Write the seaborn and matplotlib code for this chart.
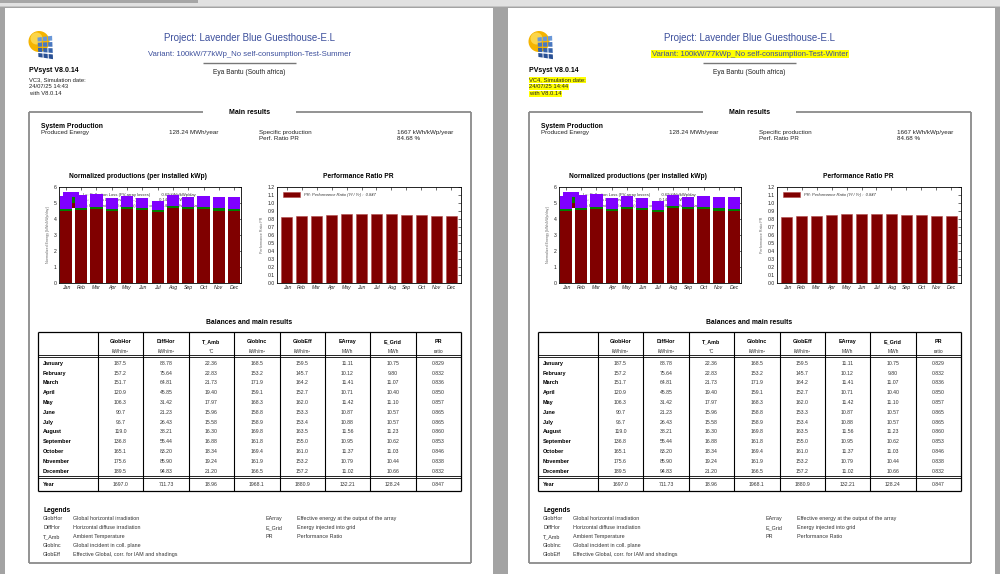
import matplotlib
matplotlib.use("Agg")
import matplotlib.pyplot as plt
import seaborn as sns
import pandas as pd
import numpy as np
from matplotlib.patches import Rectangle, Circle, Polygon, Patch

# ---------------- data ----------------
months_short = ["Jan", "Feb", "Mar", "Apr", "May", "Jun", "Jul", "Aug", "Sep", "Oct", "Nov", "Dec"]
months_long = ["January", "February", "March", "April", "May", "June", "July",
               "August", "September", "October", "November", "December"]

# normalized productions (kWh/kWp/day): reference yield, array yield, final yield
yr_vals = [5.44, 5.47, 5.55, 5.30, 5.43, 5.29, 5.13, 5.48, 5.39, 5.46, 5.40, 5.37]
ya_vals = [4.65, 4.69, 4.78, 4.64, 4.78, 4.71, 4.56, 4.84, 4.74, 4.76, 4.67, 4.62]
yf_vals = [4.50, 4.55, 4.64, 4.50, 4.65, 4.58, 4.43, 4.71, 4.60, 4.62, 4.52, 4.47]

pr_vals = [0.829, 0.832, 0.836, 0.850, 0.857, 0.865, 0.865, 0.860, 0.853, 0.846, 0.838, 0.832]

glob_hor = [187.5, 157.2, 151.7, 120.9, 106.3, 90.7, 96.7, 119.0, 136.8, 165.1, 175.6, 189.5]
diff_hor = [88.78, 75.64, 64.81, 45.85, 31.42, 21.23, 26.43, 38.21, 55.44, 83.20, 85.90, 94.83]
t_amb = [22.36, 22.83, 21.73, 19.40, 17.97, 15.96, 15.58, 16.30, 16.88, 18.34, 19.24, 21.20]
glob_inc = [168.5, 153.2, 171.9, 159.1, 168.3, 158.8, 158.9, 169.8, 161.8, 169.4, 161.9, 166.5]
glob_eff = [159.5, 145.7, 164.2, 152.7, 162.0, 153.3, 153.4, 163.5, 155.0, 161.0, 153.2, 157.2]
e_array = [11.11, 10.12, 11.41, 10.71, 11.42, 10.87, 10.88, 11.56, 10.95, 11.37, 10.79, 11.02]
e_grid = [10.75, 9.80, 11.07, 10.40, 11.10, 10.57, 10.57, 11.23, 10.62, 11.03, 10.44, 10.66]
pr_table = pr_vals
year_row = ["1697.0", "711.73", "18.96", "1968.1", "1880.9", "132.21", "128.24", "0.847"]

col_names = ["GlobHor", "DiffHor", "T_Amb", "GlobInc", "GlobEff", "EArray", "E_Grid", "PR"]
col_units = ["kWh/m²", "kWh/m²", "°C", "kWh/m²", "kWh/m²", "MWh", "MWh", "ratio"]
col_fmt = ["{:.1f}", "{:.2f}", "{:.2f}", "{:.1f}", "{:.1f}", "{:.2f}", "{:.2f}", "{:.3f}"]
table_cols = [glob_hor, diff_hor, t_amb, glob_inc, glob_eff, e_array, e_grid, pr_table]

legend_left = [("GlobHor", "Global horizontal irradiation"),
               ("DiffHor", "Horizontal diffuse irradiation"),
               ("T_Amb", "Ambient Temperature"),
               ("GlobInc", "Global incident in coll. plane"),
               ("GlobEff", "Effective Global, corr. for IAM and shadings")]
legend_right = [("EArray", "Effective energy at the output of the array"),
                ("E_Grid", "Energy injected into grid"),
                ("PR", "Performance Ratio")]

norm_labels = ["Lc: Collection Loss (PV-array losses)          0.69 kWh/kWp/day",
               "Ls: System Loss (inverter, ...)                    0.14 kWh/kWp/day",
               "Yf: Produced useful energy (inverter output)  4.56 kWh/kWp/day"]

pages = [
    dict(ox=0, variant="Variant: 100kW/77kWp_No self-consumption-Test-Summer",
         vc=["VC3, Simulation date:", "24/07/25 14:43", "with V8.0.14"], hl=False),
    dict(ox=500, variant="Variant: 100kW/77kWp_No self-consumption-Test-Winter",
         vc=["VC4, Simulation date:", "24/07/25 14:44", "with V8.0.14"], hl=True),
]

# ---------------- style ----------------
sns.set_theme(style="white")
plt.rcParams['font.family'] = ['Liberation Sans', 'DejaVu Sans']

C_LC = "#8000ff"
C_LS = "#008000"
C_YF = "#800000"
BLUE = "#3c4f9c"

W, H = 1000, 574
fig = plt.figure(figsize=(10, 5.74), dpi=100)
fig.patch.set_facecolor('#a3a3a3')
bg = fig.add_axes([0, 0, 1, 1])
bg.set_xlim(0, W)
bg.set_ylim(H, 0)
bg.axis('off')

# window chrome and pages
bg.add_patch(Rectangle((0, 0), W, 7, fc='#e1e1e1', ec='none'))
bg.add_patch(Rectangle((0, 0), 198, 2.7, fc='#a6a6a6', ec='none'))
bg.add_patch(Rectangle((0, 6), W, 1.2, fc='#c4c4c4', ec='none'))
bg.add_patch(Rectangle((5, 7.5), 488, H, fc='white', ec='none'))
bg.add_patch(Rectangle((508, 7.5), 487, H, fc='white', ec='none'))


def T(x, y, s, size, weight='normal', ha='left', color='#111111', style='normal', **kw):
    bg.text(x, y, s, fontsize=size, fontweight=weight, ha=ha, va='center',
            color=color, fontstyle=style, **kw)


def hline(x0, x1, y, lw=0.7, color='black'):
    bg.plot([x0, x1], [y, y], color=color, lw=lw, solid_capstyle='butt')


def vline(x, y0, y1, lw=0.7, color='black'):
    bg.plot([x, x], [y0, y1], color=color, lw=lw, solid_capstyle='butt')


def logo(ox):
    bg.add_patch(Circle((ox + 39, 41.5), 10.5, fc='#f5b400', ec='none'))
    bg.add_patch(Circle((ox + 36.5, 38.5), 6.0, fc='#fbd54a', ec='none'))
    tl, tr, br, bl = (np.array(p, float) for p in
                      [(ox + 37, 37.0), (ox + 52.5, 35.0), (ox + 53.5, 60), (ox + 38, 57.5)])
    nc, nr = 3, 4

    def pt(u, v):
        top = tl + (tr - tl) * u
        bot = bl + (br - bl) * u
        return top + (bot - top) * v
    g = 0.06
    for i in range(nc):
        for j in range(nr):
            u0, u1 = i / nc + g / 2, (i + 1) / nc - g / 2
            v0, v1 = j / nr + g / 2, (j + 1) / nr - g / 2
            poly = [pt(u0, v0), pt(u1, v0), pt(u1, v1), pt(u0, v1)]
            shade = ['#6a98d8', '#4a78c0', '#3462aa', '#284f94'][j]
            bg.add_patch(Polygon(poly, closed=True, fc=shade, ec='none'))


def style_axes(ax):
    for sp in ax.spines.values():
        sp.set_color('black')
        sp.set_linewidth(0.6)
        sp.set_visible(True)
    ax.tick_params(direction='in', top=True, right=True, length=2, width=0.4,
                   labelsize=3.7, pad=1.5, colors='black', labelcolor='#222222')
    ax.set_xlabel('')
    for lbl in ax.get_xticklabels():
        lbl.set_fontstyle('italic')
    ax.set_facecolor('white')


df = pd.DataFrame({"month": months_short, "Yr": yr_vals, "Ya": ya_vals,
                   "Yf": yf_vals, "PR": pr_vals})

for pg in pages:
    ox = pg["ox"]
    logo(ox)
    T(ox + 29, 71, "PVsyst V8.0.14", 5.0, weight='bold', color='black')
    hlkw = dict(bbox=dict(fc='#ffff00', ec='none', pad=0.3)) if pg["hl"] else {}
    for k, s in enumerate(pg["vc"]):
        T(ox + 29, 80 + k * 6.8, s, 4.2, color='#222222', **hlkw)

    T(ox + 250, 38, "Project: Lavender Blue Guesthouse-E.L", 7.0, ha='center', color=BLUE)
    T(ox + 250, 54, pg["variant"], 5.6, ha='center', color=BLUE, **hlkw)
    hline(ox + 203, ox + 296, 63, lw=1.0, color='#777777')
    T(ox + 249, 73, "Eya Bantu (South africa)", 4.8, ha='center', color='#222222')

    # Main results frame
    fc = '#8a8a8a'
    hline(ox + 29, ox + 203, 112, lw=1.3, color=fc)
    hline(ox + 296, ox + 471, 112, lw=1.3, color=fc)
    vline(ox + 29, 112, 563, lw=1.3, color=fc)
    vline(ox + 471, 112, 563, lw=1.3, color=fc)
    hline(ox + 29, ox + 471, 563, lw=1.3, color=fc)
    T(ox + 249.5, 112.5, "Main results", 5.0, weight='bold', ha='center', color='black')

    T(ox + 41, 126, "System Production", 4.9, weight='bold', color='black')
    T(ox + 41, 132.5, "Produced Energy", 4.5, color='#222222')
    T(ox + 169, 132.5, "128.24 MWh/year", 4.5, color='#222222')
    T(ox + 259, 132.5, "Specific production", 4.5, color='#222222')
    T(ox + 397, 132.5, "1667 kWh/kWp/year", 4.5, color='#222222')
    T(ox + 259, 138.5, "Perf. Ratio PR", 4.5, color='#222222')
    T(ox + 397, 138.5, "84.68 %", 4.5, color='#222222')

    # chart titles
    T(ox + 138, 177, "Normalized productions (per installed kWp)", 4.8, weight='bold', ha='center', color='black')
    T(ox + 358, 177, "Performance Ratio PR", 4.8, weight='bold', ha='center', color='black')

    # ---- normalized productions chart ----
    axn = fig.add_axes([(ox + 59) / W, 1 - 283 / H, 182 / W, 96 / H])
    sns.barplot(data=df, x="month", y="Yr", color=C_LC, saturation=1, width=0.8,
                errorbar=None, ax=axn, zorder=3, linewidth=0)
    sns.barplot(data=df, x="month", y="Ya", color=C_LS, saturation=1, width=0.8,
                errorbar=None, ax=axn, zorder=3, linewidth=0)
    sns.barplot(data=df, x="month", y="Yf", color=C_YF, saturation=1, width=0.8,
                errorbar=None, ax=axn, zorder=3, linewidth=0)
    axn.set_xlim(-0.45, 11.45)
    axn.set_ylim(0, 6)
    axn.set_yticks(range(0, 7))
    axn.set_ylabel("Normalized Energy [kWh/kWp/day]", fontsize=2.6, color='#666666', labelpad=3)
    handles = [Patch(fc=C_LC, ec='none'), Patch(fc=C_LS, ec='none'), Patch(fc=C_YF, ec='none')]
    leg = axn.legend(handles, norm_labels, loc='upper left', bbox_to_anchor=(0.02, 0.95),
                     frameon=False, fontsize=3.0, handlelength=4.0, handleheight=1.6,
                     labelspacing=0.0, borderpad=0, borderaxespad=0, handletextpad=0.8)
    for t in leg.get_texts():
        t.set_color('#333333')
    leg.set_zorder(1)
    style_axes(axn)

    # ---- performance ratio chart ----
    axp = fig.add_axes([(ox + 277) / W, 1 - 283 / H, 184 / W, 96 / H])
    sns.barplot(data=df, x="month", y="PR", color=C_YF, saturation=1, width=0.72,
                errorbar=None, ax=axp, zorder=3, edgecolor='#b34a4a', linewidth=0.4)
    axp.set_xlim(-0.65, 11.65)
    axp.set_ylim(0, 1.2)
    axp.set_yticks(np.round(np.arange(0, 1.21, 0.1), 1))
    axp.set_yticklabels([f"{v:.1f}" for v in np.arange(0, 1.21, 0.1)])
    axp.set_ylabel("Performance Ratio PR", fontsize=2.6, color='#666666', labelpad=3)
    lp = axp.legend([Patch(fc=C_YF, ec='#b34a4a', lw=0.4)],
                    ["PR: Performance Ratio (Yf / Yr) :  0.847"], loc='upper left',
                    bbox_to_anchor=(0.035, 0.95), frameon=False, fontsize=3.0,
                    handlelength=3.9, handleheight=1.45, borderpad=0, borderaxespad=0,
                    handletextpad=1.0)
    for t in lp.get_texts():
        t.set_fontstyle('italic')
        t.set_color('#333333')
    style_axes(axp)

    # ---- table ----
    T(ox + 249.5, 323, "Balances and main results", 4.9, weight='bold', ha='center', color='black')
    seps = [98, 143, 189, 234, 280, 325, 370, 416, 461]
    L, R, TOP, BOT = 38, 461, 332, 491
    hline(ox + L, ox + R, TOP, lw=0.9)
    hline(ox + L, ox + R, BOT, lw=0.9)
    vline(ox + L, TOP, BOT, lw=0.9)
    for sx in seps:
        vline(ox + sx, TOP, BOT, lw=0.8 if sx != R else 0.9)
    hline(ox + L, ox + R, 355.3, lw=0.6)
    hline(ox + L, ox + R, 357.4, lw=0.6)
    hline(ox + L, ox + R, 476.0, lw=0.6)
    hline(ox + L, ox + R, 478.2, lw=0.6)
    for c in range(8):
        cx = ox + (seps[c] + seps[c + 1]) / 2
        T(cx, 341.5, col_names[c], 3.9, weight='bold', ha='center', color='black')
        T(cx, 351.5, col_units[c], 3.5, ha='center', color='#333333')
    for r in range(12):
        ry = 363.2 + r * 9.82
        T(ox + 43, ry, months_long[r], 4.0, weight='bold', color='black')
        for c in range(8):
            cx = ox + (seps[c] + seps[c + 1]) / 2
            T(cx, ry, col_fmt[c].format(table_cols[c][r]), 3.7, ha='center', color='#333333')
    T(ox + 43, 484, "Year", 4.0, weight='bold', color='black')
    for c in range(8):
        cx = ox + (seps[c] + seps[c + 1]) / 2
        T(cx, 484, year_row[c], 3.7, ha='center', color='#333333')

    # ---- legends ----
    T(ox + 43, 510, "Legends", 4.8, weight='bold', color='black')
    for k, (a, d) in enumerate(legend_left):
        yy = 518.4 + k * 9.0
        T(ox + 43, yy, a, 3.9, color='#333333')
        T(ox + 73, yy, d, 3.9, color='#333333')
    for k, (a, d) in enumerate(legend_right):
        yy = 518.4 + k * 9.0
        T(ox + 265, yy, a, 3.9, color='#333333')
        T(ox + 297, yy, d, 3.9, color='#333333')

fig.savefig("out.png", dpi=100, facecolor=fig.get_facecolor())
